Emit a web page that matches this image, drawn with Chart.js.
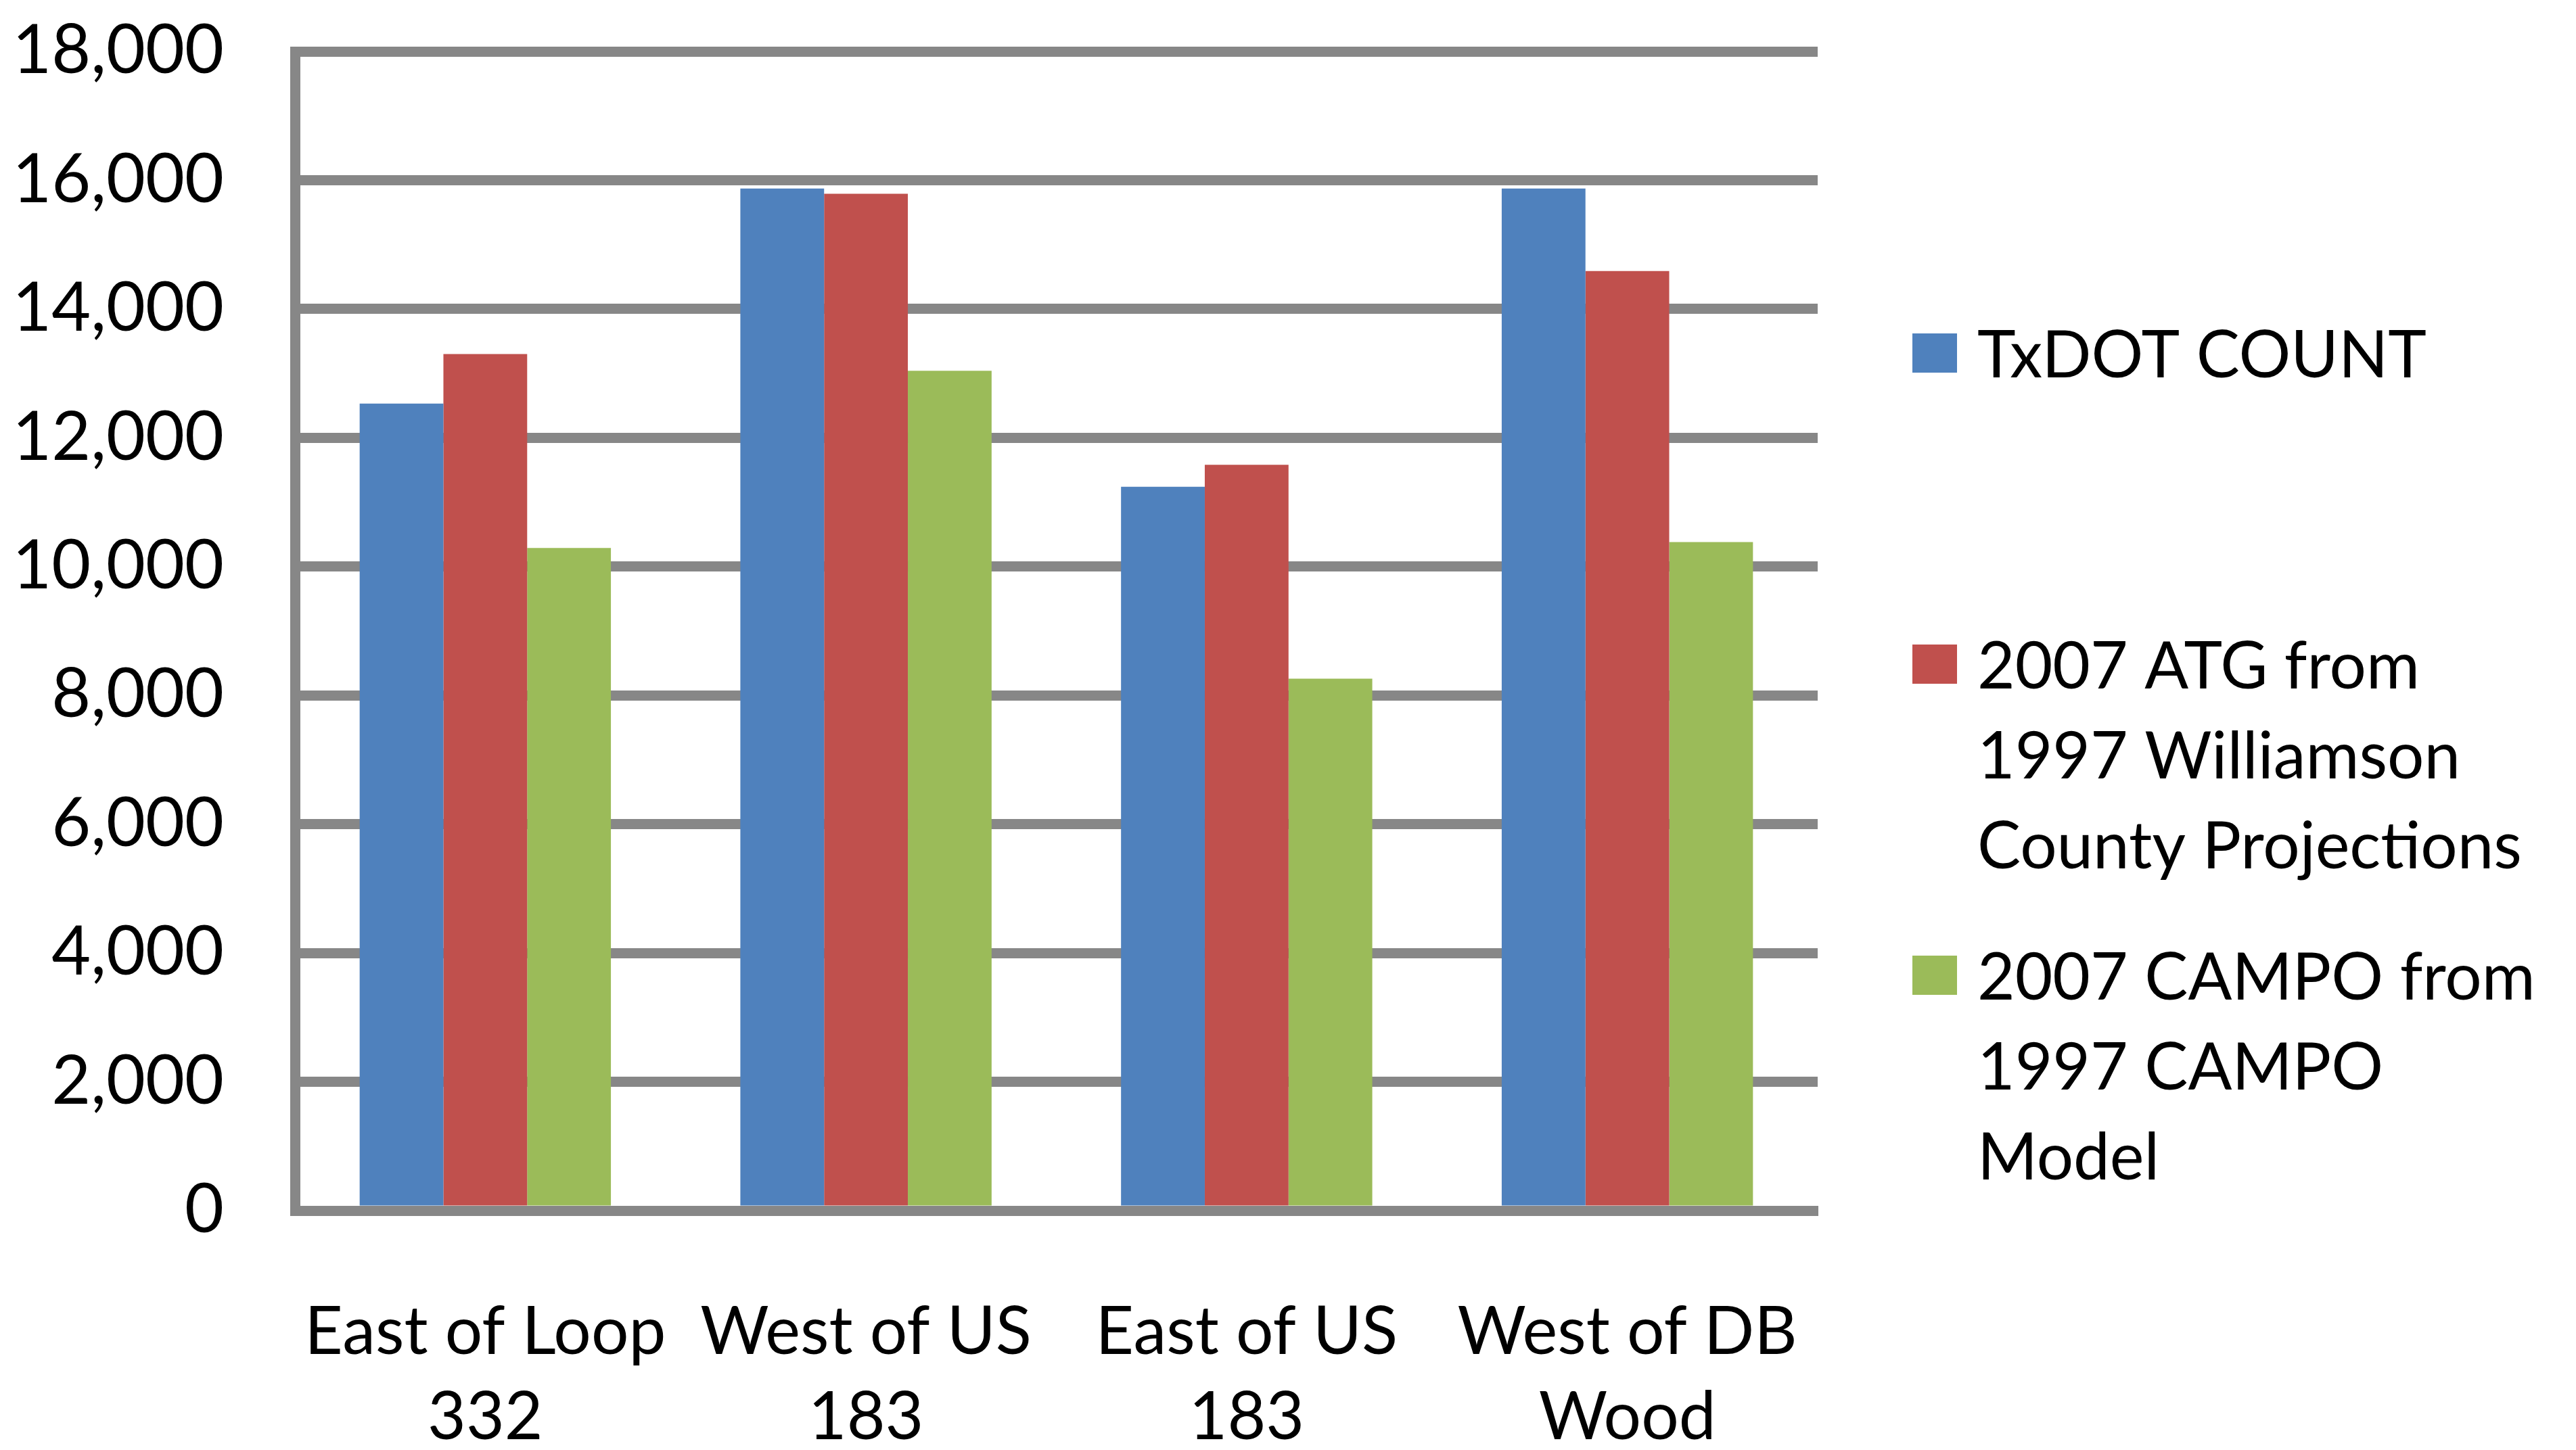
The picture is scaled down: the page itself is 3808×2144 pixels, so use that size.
<!DOCTYPE html>
<html>
<head>
<meta charset="utf-8">
<script src="https://cdn.jsdelivr.net/npm/chart.js@4/dist/chart.umd.min.js"></script>
<style>
  html, body { margin: 0; padding: 0; background: #fff; }
  #wrap { width: 3808px; height: 2144px; }
</style>
</head>
<body>
<div id="wrap"><canvas id="chart" width="3808" height="2144"></canvas></div>
<script>
const categories = [["East of Loop", "332"], ["West of US", "183"], ["East of US", "183"], ["West of DB", "Wood"]]
const txdotCount = [12530, 15870, 11240, 15870]
const atgProjection = [13300, 15790, 11580, 14590]
const campoModel = [10290, 13040, 8260, 10380]
const seriesLines = [
    ["TxDOT COUNT"],
    ["2007 ATG from", "1997 Williamson", "County Projections"],
    ["2007 CAMPO from", "1997 CAMPO", "Model"]
]
const seriesColors = ["#4f81bd", "#c0504d", "#9bbb59"]
const yTicks = [0, 2000, 4000, 6000, 8000, 10000, 12000, 14000, 16000, 18000]

const fontFamily = "Lato, 'Open Sans', sans-serif"
const gridGray = "#878787"

// legend on the right, drawn by hand so that entries can wrap
const sideLegend = {
    id: "sideLegend",
    afterDraw(chart){
        const ctx = chart.ctx
        ctx.save()
        ctx.font = "96px " + fontFamily
        ctx.textBaseline = "alphabetic"
        chart.data.datasets.forEach((ds, i) => {
            const cy = 522 + i * 460
            ctx.fillStyle = ds.backgroundColor
            ctx.fillRect(2827, cy - 29, 66, 58)
            ctx.fillStyle = "#000"
            seriesLines[i].forEach((line, j) => {
                ctx.fillText(line, 2923, cy + 36 + j * 133)
            })
        })
        ctx.restore()
    }
}

new Chart(document.querySelector("#chart"), {
    type: "bar",
    data: {
        labels: categories,
        datasets: [txdotCount, atgProjection, campoModel].map((v, i) => {
            return {
                label: seriesLines[i].join(" "),
                data: v,
                backgroundColor: seriesColors[i],
                borderWidth: 0,
                barPercentage: 1,
                categoryPercentage: 0.66
            }
        })
    },
    options: {
        responsive: false,
        animation: false,
        devicePixelRatio: 1,
        layout: {
            padding: {left: 0, top: 76, right: 1121, bottom: 0}
        },
        plugins: {
            legend: {display: false},
            tooltip: {enabled: false}
        },
        scales: {
            x: {
                grid: {display: false, drawTicks: false},
                border: {display: true, color: gridGray, width: 15},
                ticks: {
                    color: "#000",
                    font: {family: fontFamily, size: 98, lineHeight: 1.28},
                    padding: 118,
                    maxRotation: 0,
                    autoSkip: false
                },
                afterFit(scale){
                    scale.height = 354
                    scale.paddingLeft = 0
                    scale.paddingRight = 0
                }
            },
            y: {
                min: 0,
                max: 18000,
                afterBuildTicks(scale){ scale.ticks = yTicks.map(v => ({value: v})) },
                grid: {color: gridGray, lineWidth: 15, drawTicks: false},
                border: {display: true, color: gridGray, width: 15},
                ticks: {
                    color: "#000",
                    font: {family: fontFamily, size: 100},
                    padding: 105,
                    callback: v => v.toLocaleString("en-US")
                },
                afterFit(scale){
                    scale.width = 436
                    scale.paddingTop = 0
                    scale.paddingBottom = 0
                }
            }
        }
    },
    plugins: [sideLegend]
})
</script>
</body>
</html>
